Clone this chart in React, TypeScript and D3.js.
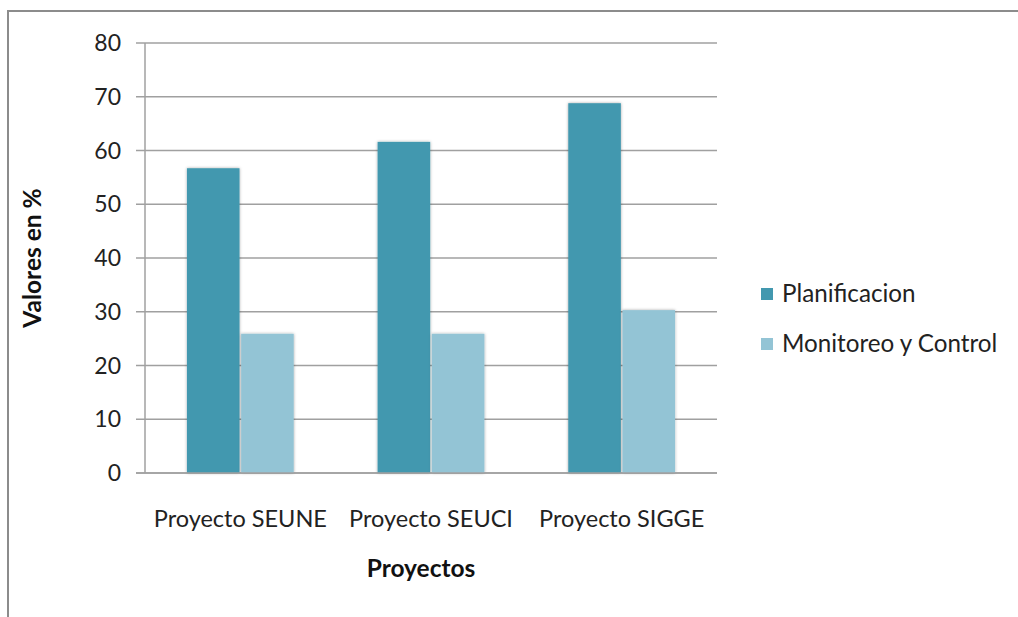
import React from "react";
import * as d3 from "d3";

const categories = ["Proyecto SEUNE", "Proyecto SEUCI", "Proyecto SIGGE"];
const seriesNames = ["Planificacion", "Monitoreo y Control"];
const planificacion = [56.7, 61.6, 68.8];
const monitoreo = [25.9, 25.9, 30.3];
const yTicks = [0, 10, 20, 30, 40, 50, 60, 70, 80];
const colors = ["#4298AF", "#93C4D5"];

const W = 1018;
const H = 617;
const FONT = "Lato, 'Open Sans', sans-serif";

export default function App() {
  const left = 145;
  const right = 717;
  const top = 43;
  const bottom = 473;
  const y = d3.scaleLinear().domain([0, 80]).range([bottom, top]);
  const x = d3.scaleBand<string>().domain(categories).range([left, right]).paddingInner(0.44).paddingOuter(0.22);
  const xs = d3.scaleBand<string>().domain(seriesNames).range([0, x.bandwidth()]).paddingInner(0.03);
  const series = [planificacion, monitoreo];

  return (
    <div style={{ position: "fixed", left: 0, top: 0 }}>
      <svg width={W} height={H} style={{ display: "block", background: "#fff" }}>
        <defs>
          <filter id="sh" x="-20%" y="-5%" width="140%" height="110%">
            <feDropShadow dx="0" dy="0" stdDeviation="1.6" floodColor="#000" floodOpacity="0.35" />
          </filter>
        </defs>
        <rect x={8} y={11} width={W + 20} height={H + 20} fill="#fff" stroke="#8c8c8c" strokeWidth={2} />
        {yTicks.map((t) => (
          <g key={t}>
            <line x1={left - 9} x2={right} y1={y(t)} y2={y(t)} stroke="#a0a0a0" strokeWidth={1.5} />
            <text x={121} y={y(t)} dy="0.35em" textAnchor="end" fontFamily={FONT} fontSize={23} fill="#222">
              {t}
            </text>
          </g>
        ))}
        <line x1={left} x2={left} y1={top} y2={bottom} stroke="#a0a0a0" strokeWidth={1.5} />
        {categories.map((c, i) => (
          <g key={c}>
            {series.map((s, j) => (
              <rect
                key={j}
                x={(x(c) ?? 0) + (xs(seriesNames[j]) ?? 0)}
                y={y(s[i])}
                width={xs.bandwidth()}
                height={bottom - y(s[i])}
                fill={colors[j]}
                filter="url(#sh)"
              />
            ))}
            <text x={(x(c) ?? 0) + x.bandwidth() / 2} y={527} textAnchor="middle" fontFamily={FONT} fontSize={23.5} fill="#222">
              {c}
            </text>
          </g>
        ))}
        <line x1={left - 9} x2={right} y1={bottom} y2={bottom} stroke="#a0a0a0" strokeWidth={1.5} />
        <text x={421} y={577} textAnchor="middle" fontFamily={FONT} fontSize={24.5} fontWeight="bold" fill="#111">
          Proyectos
        </text>
        <text
          transform={`translate(41,${(top + bottom) / 2}) rotate(-90)`}
          textAnchor="middle"
          fontFamily={FONT}
          fontSize={24.5}
          fontWeight="bold"
          fill="#111"
        >
          Valores en %
        </text>
        {seriesNames.map((n, j) => (
          <g key={n} transform={`translate(761,${294 + j * 50})`}>
            <rect x={0} y={-6} width={12} height={12} fill={colors[j]} />
            <text x={21} y={0} dy="0.35em" fontFamily={FONT} fontSize={24.2} fill="#222">
              {n}
            </text>
          </g>
        ))}
      </svg>
    </div>
  );
}
